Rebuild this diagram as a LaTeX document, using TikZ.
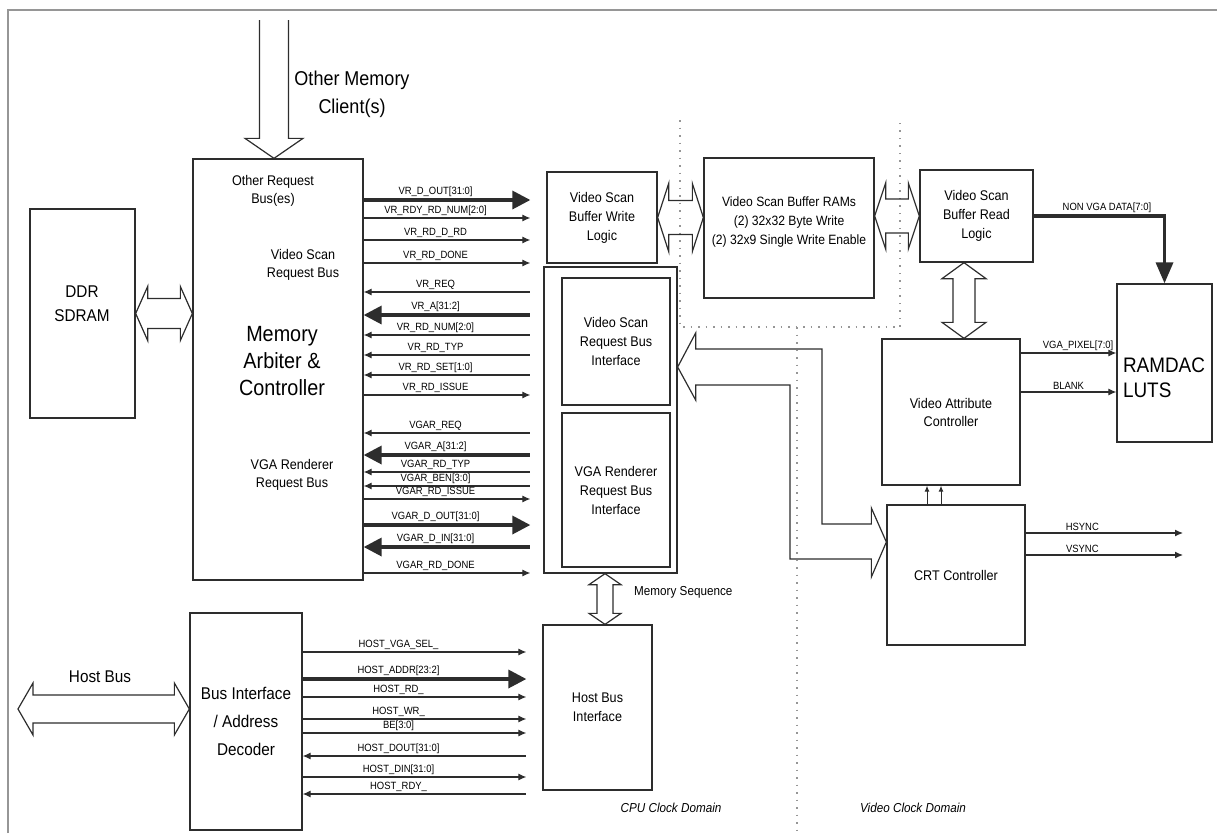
\documentclass[tikz,border=0pt]{standalone}
\usepackage{fontspec}
\setmainfont{Liberation Sans}[FakeStretch=0.9]
\usetikzlibrary{arrows.meta,calc}
\definecolor{inkline}{RGB}{45,45,45}
\definecolor{domline}{RGB}{150,150,150}
\tikzset{
  block/.style 2 args={rectangle,draw=inkline,line width=1.3pt,minimum width=#1pt,minimum height=#2pt,inner sep=0pt},
  boxtxt/.style={font=\fontsize{14}{19}\selectfont,align=center,inner sep=0pt},
  bigtxt/.style={font=\fontsize{17}{24}\selectfont,align=center,inner sep=0pt},
  hugetxt/.style={font=\fontsize{22}{27}\selectfont,align=center,inner sep=0pt},
  lutstxt/.style={font=\fontsize{21}{25}\selectfont,align=left,inner sep=0pt},
  domtxt/.style={font=\fontsize{13}{15}\selectfont\itshape,inner sep=0pt},
  lbl/.style={font=\fontsize{10.5}{10.5}\selectfont,above,inner sep=1.5pt},
  sig/.style={-{Latex[length=8pt,width=7pt]},line width=1.1pt,draw=inkline},
  sigback/.style={{Latex[length=8pt,width=7pt]}-,line width=1.1pt,draw=inkline},
  smallsig/.style={-{Latex[length=6pt,width=5pt]},line width=1pt,draw=inkline},
  widesig/.style={-{Triangle[length=18pt,width=18pt]},line width=3.4pt,draw=inkline},
  widesigback/.style={{Triangle[length=18pt,width=18pt]}-,line width=3.4pt,draw=inkline},
  datasig/.style={-{Triangle[length=21pt,width=17pt]},line width=3.4pt,draw=inkline},
  busline/.style={line width=1.2pt,draw=inkline,line join=miter},
  hbus/.style n args={3}{busline,to path={
    -- ($(\tikztostart)+(#1,#2)$) -- ($(\tikztostart)+(#1,#3)$)
    -- ($(\tikztotarget)+(-#1,#3)$) -- ($(\tikztotarget)+(-#1,#2)$)
    -- (\tikztotarget)
    -- ($(\tikztotarget)+(-#1,-#2)$) -- ($(\tikztotarget)+(-#1,-#3)$)
    -- ($(\tikztostart)+(#1,-#3)$) -- ($(\tikztostart)+(#1,-#2)$) -- cycle}},
  vbus/.style n args={3}{busline,to path={
    -- ($(\tikztostart)+(#2,#1)$) -- ($(\tikztostart)+(#3,#1)$)
    -- ($(\tikztotarget)+(#3,-#1)$) -- ($(\tikztotarget)+(#2,-#1)$)
    -- (\tikztotarget)
    -- ($(\tikztotarget)+(-#2,-#1)$) -- ($(\tikztotarget)+(-#3,-#1)$)
    -- ($(\tikztostart)+(-#3,#1)$) -- ($(\tikztostart)+(-#2,#1)$) -- cycle}},
  dbus/.style n args={3}{busline,to path={
    ($(\tikztostart)+(#3,0)$) -- ($(\tikztotarget)+(#3,-#1)$) -- ($(\tikztotarget)+(#2,-#1)$)
    -- (\tikztotarget) -- ($(\tikztotarget)+(-#2,-#1)$) -- ($(\tikztotarget)+(-#3,-#1)$)
    -- ($(\tikztostart)+(-#3,0)$)}},
  pageframe/.style={draw=domline,line width=1.5pt},
  domborder/.style={draw=domline,line width=1.3pt,dash pattern=on 1.5pt off 6pt}
}

\begin{document}
\begin{tikzpicture}[x=1pt,y=-1pt]
  \useasboundingbox (0,0) rectangle (1217,833);
  % page frame and clock domain border
  \draw[pageframe] (8,833) -- (8,10) -- (1217,10);
  \draw[domborder] (680,120) -- (680,327) -- (900,327) -- (900,123);
  \draw[domborder] (797,327) -- (797,833);

  % blocks
  \node[block={105}{209}] (ddr) at (82.5,313.5) {};
  \node[bigtxt] (ddrtxt) at (82,304) {DDR\\SDRAM};
  \node[block={170}{421}] (arb) at (278,369.5) {};
  \node[boxtxt,font=\fontsize{14}{18}\selectfont] (arbother) at (273,191) {Other Request\\Bus(es)};
  \node[boxtxt,font=\fontsize{14}{18}\selectfont] (arbvs) at (303,265) {Video Scan\\Request Bus};
  \node[hugetxt] (arbname) at (282,361) {Memory\\Arbiter \&\\Controller};
  \node[boxtxt,font=\fontsize{14}{18}\selectfont] (arbvga) at (292,475) {VGA Renderer\\Request Bus};
  \node[block={110}{91},boxtxt] (wrl) at (602,217.5) {Video Scan\\Buffer Write\\Logic};
  \node[block={170}{140}] (ram) at (789,228) {};
  \node[boxtxt,font=\fontsize{13.5}{19}\selectfont] (ramtxt) at (789,222) {Video Scan Buffer RAMs\\(2) 32x32 Byte Write\\(2) 32x9 Single Write Enable};
  \node[block={113}{92},boxtxt] (rdl) at (976.5,216) {Video Scan\\Buffer Read\\Logic};
  \node[block={95}{158}] (ramdac) at (1164.5,363) {};
  \node[lutstxt] (lutstxt) at (1164,378) {RAMDAC\\LUTS};
  \node[block={138}{146},boxtxt,font=\fontsize{14}{18}\selectfont] (vac) at (951,412) {Video Attribute\\Controller};
  \node[block={138}{140},boxtxt] (crt) at (956,575) {CRT Controller};
  \node[block={133}{306}] (ifc) at (610.5,420) {};
  \node[block={108}{127},boxtxt] (vsrbi) at (616,341.5) {Video Scan\\Request Bus\\Interface};
  \node[block={108}{154},boxtxt] (vgarbi) at (616,490) {VGA Renderer\\Request Bus\\Interface};
  \node[block={109}{165},boxtxt] (hbi) at (597.5,707.5) {Host Bus\\Interface};
  \node[block={112}{217},bigtxt,font=\fontsize{17}{28}\selectfont] (bid) at (246,721.5) {Bus Interface\\/ Address\\Decoder};

  % wide buses
  \coordinate (omctop) at (274,20);
  \draw[dbus={20}{29}{14.5}] (omctop) to (omctop |- arb.north);
  \node[bigtxt,font=\fontsize{20}{28}\selectfont] (omctxt) at (352,94) {Other Memory\\Client(s)};
  \draw[hbus={12}{27}{15}] (ddr.east) to (ddr.east -| arb.west);
  \draw[hbus={11}{34}{17}] (wrl.east) to (wrl.east -| ram.west);
  \draw[hbus={11}{33}{17}] (rdl.west -| ram.east) to (rdl.west);
  \draw[vbus={16}{22}{11}] (rdl.south -| 964,0) to (vac.north -| 964,0);
  \draw[vbus={11}{16}{8}] (ifc.south -| 605,0) to (hbi.north -| 605,0);
  \node[boxtxt,anchor=west,font=\fontsize{13}{15}\selectfont] (memseq) at (634,592) {Memory Sequence};
  \coordinate (hostbus) at (18,709);
  \draw[hbus={15}{26}{14}] (hostbus) to (hostbus -| bid.west);
  \node[bigtxt] (hostbustxt) at (100,677) {Host Bus};
  \coordinate (vsport) at (ifc.east |- 0,367);
  \coordinate (crtport) at (crt.west |- 0,542);
  \draw[busline] (vsport) -- ++(18,-34) -- ++(0,16) -| (822,524) -- ($(crtport)+(-15,-18)$)
    -- ++(0,-16) -- (crtport) -- ++(-15,35) -- ++(0,-18) -| (790,385)
    -- ($(vsport)+(18,18)$) -- ++(0,15) -- cycle;

  % video scan and VGA renderer request buses
  \foreach \y/\txt/\sty in {200/VR\_D\_OUT[31:0]/widesig, 218/VR\_RDY\_RD\_NUM[2:0]/sig,
      240/VR\_RD\_D\_RD/sig, 263/VR\_RD\_DONE/sig, 292/VR\_REQ/sigback,
      315/VR\_A[31:2]/widesigback, 335/VR\_RD\_NUM[2:0]/sigback, 355/VR\_RD\_TYP/sigback,
      375/VR\_RD\_SET[1:0]/sigback, 395/VR\_RD\_ISSUE/sig,
      433/VGAR\_REQ/sigback, 455/VGAR\_A[31:2]/widesigback, 472/VGAR\_RD\_TYP/sigback,
      486/VGAR\_BEN[3:0]/sigback, 499/VGAR\_RD\_ISSUE/sig, 525/VGAR\_D\_OUT[31:0]/widesig,
      547/VGAR\_D\_IN[31:0]/widesigback, 573/VGAR\_RD\_DONE/sig}
    \draw[\sty,shorten >=13pt] (arb.east |- 0,\y) -- node[lbl,pos=0.4] {\txt} (ifc.west |- 0,\y);

  % host signals
  \foreach \y/\txt/\sty in {652/HOST\_VGA\_SEL\_/sig, 679/HOST\_ADDR[23:2]/widesig,
      697/HOST\_RD\_/sig, 719/HOST\_WR\_/sig, 733/BE[3:0]/sig,
      756/HOST\_DOUT[31:0]/sigback, 777/HOST\_DIN[31:0]/sig, 794/HOST\_RDY\_/sigback}
    \draw[\sty,shorten >=16pt] (bid.east |- 0,\y) -- node[lbl,pos=0.4] {\txt} (hbi.west |- 0,\y);

  % video clock domain signals
  \draw[datasig] (rdl.east) -| node[lbl,pos=0.28] {NON VGA DATA[7:0]} (ramdac.north);
  \draw[sig] (vac.east |- 0,353) -- node[lbl,pos=0.6] {VGA\_PIXEL[7:0]} (ramdac.west |- 0,353);
  \draw[sig] (vac.east |- 0,392) -- node[lbl,pos=0.5] {BLANK} (ramdac.west |- 0,392);
  \coordinate (hsyncend) at (1183,533);
  \coordinate (vsyncend) at (1183,555);
  \draw[sig] (crt.east |- hsyncend) -- node[lbl,pos=0.36] {HSYNC} (hsyncend);
  \draw[sig] (crt.east |- vsyncend) -- node[lbl,pos=0.36] {VSYNC} (vsyncend);
  \draw[smallsig] (crt.north -| 927,0) -- (vac.south -| 927,0);
  \draw[smallsig] (crt.north -| 941,0) -- (vac.south -| 941,0);

  % clock domains
  \node[domtxt] (cpudom) at (671,808) {CPU Clock Domain};
  \node[domtxt] (viddom) at (913,808) {Video Clock Domain};
\end{tikzpicture}
\end{document}
